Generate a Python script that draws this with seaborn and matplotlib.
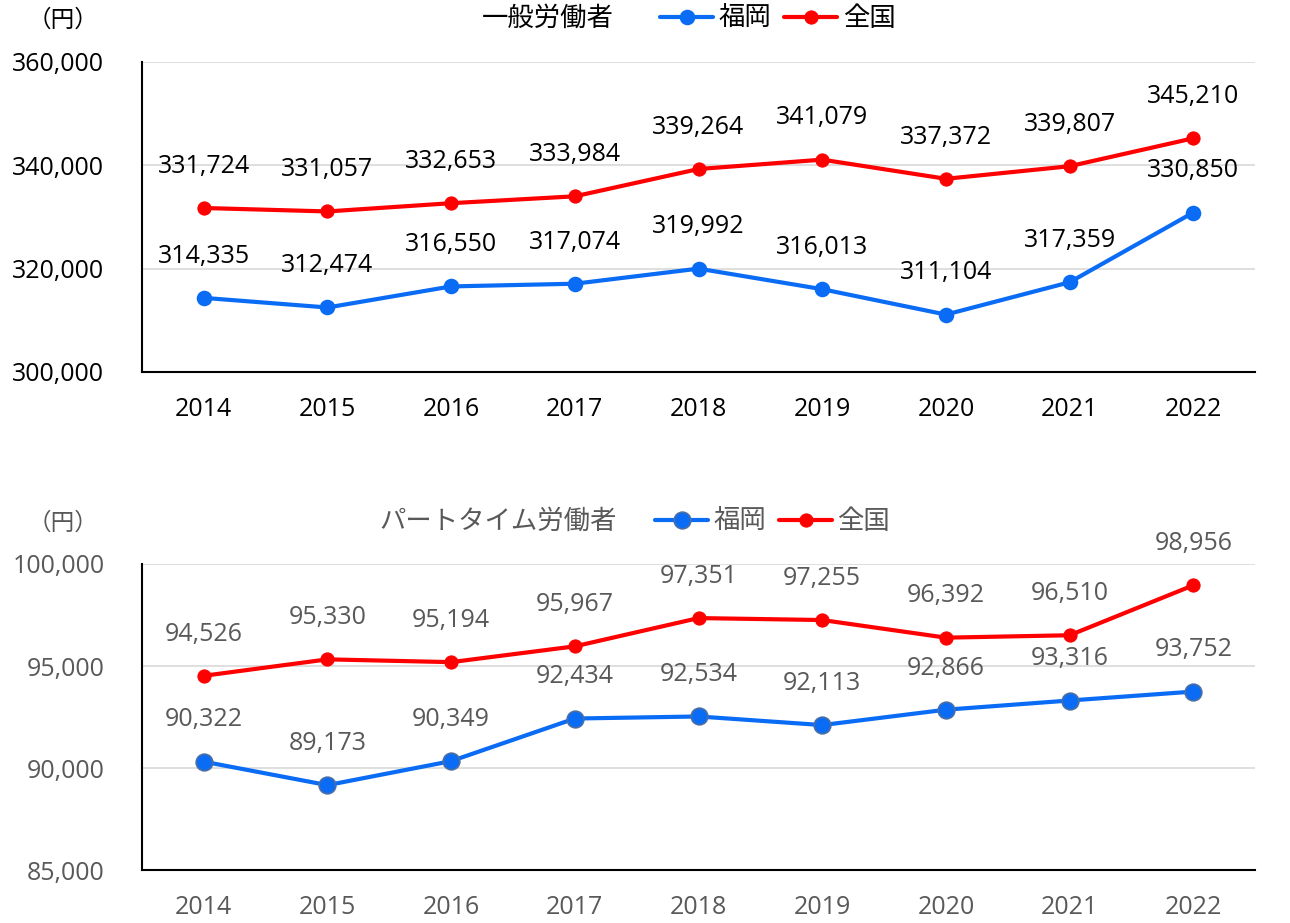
import pandas as pd
import matplotlib.pyplot as plt
import seaborn as sns
from matplotlib.ticker import FuncFormatter

years = ["2014", "2015", "2016", "2017", "2018", "2019", "2020", "2021", "2022"]

# 一般労働者
gen_fukuoka = [314335, 312474, 316550, 317074, 319992, 316013, 311104, 317359, 330850]
gen_zenkoku = [331724, 331057, 332653, 333984, 339264, 341079, 337372, 339807, 345210]

# パートタイム労働者
part_fukuoka = [90322, 89173, 90349, 92434, 92534, 92113, 92866, 93316, 93752]
part_zenkoku = [94526, 95330, 95194, 95967, 97351, 97255, 96392, 96510, 98956]

sns.set_style("white")
plt.rcParams['font.family'] = ['Open Sans', 'Noto Sans CJK JP', 'DejaVu Sans']

blue = "#0A6CF5"
red = "#FF0000"
fmt = FuncFormatter(lambda v, p: f"{int(v):,}")

fig = plt.figure(figsize=(12.9, 9.23), dpi=100)
ax1 = fig.add_axes([0.110, 0.597, 0.863, 0.336])
ax2 = fig.add_axes([0.110, 0.057, 0.863, 0.332])


def draw(ax, fuk, zen, ylim, step, txtcol, title, tx, ty, lx, fuk_edge, fuk_ms):
    df = pd.DataFrame({"year": years * 2,
                       "value": fuk + zen,
                       "area": ["福岡"] * len(years) + ["全国"] * len(years)})
    sns.lineplot(data=df[df.area == "福岡"], x="year", y="value", ax=ax,
                 color=blue, lw=3, marker="o", markersize=fuk_ms,
                 markeredgecolor=fuk_edge, markeredgewidth=1.2, label="福岡")
    sns.lineplot(data=df[df.area == "全国"], x="year", y="value", ax=ax,
                 color=red, lw=3, marker="o", markersize=9.5,
                 markeredgecolor=red, label="全国")
    for series in (fuk, zen):
        for i, v in enumerate(series):
            ax.annotate(f"{v:,}", (i, v), xytext=(0, 30), textcoords="offset points",
                        ha="center", va="center", fontsize=18, color=txtcol)
    ax.set_xlim(-0.5, 8.5)
    ax.set_ylim(*ylim)
    ax.set_yticks(range(ylim[0], ylim[1] + 1, step))
    ax.yaxis.set_major_formatter(fmt)
    ax.grid(axis="y", color="#d9d9d9", lw=1.2)
    ax.set_axisbelow(True)
    for s in ["top", "right"]:
        ax.spines[s].set_visible(False)
    for s in ["left", "bottom"]:
        ax.spines[s].set_color("black")
        ax.spines[s].set_linewidth(1.5)
    ax.tick_params(axis="both", labelsize=18, colors=txtcol, length=0)
    ax.tick_params(axis="y", pad=27)
    ax.tick_params(axis="x", pad=18)
    ax.set_xlabel("")
    ax.set_ylabel("")
    fig.text(tx, ty, title, fontsize=19, color=txtcol, ha="center", va="center")
    fig.text(0.049, ty - 0.001, "（円）", fontsize=17, color=txtcol, ha="center", va="center")
    leg = ax.legend(loc="center left", bbox_to_anchor=(lx, ty), bbox_transform=fig.transFigure,
                    ncol=2, frameon=False, fontsize=19, handlelength=2.0,
                    handletextpad=0.2, columnspacing=0.5, borderpad=0, borderaxespad=0)
    for t in leg.get_texts():
        t.set_color(txtcol)


draw(ax1, gen_fukuoka, gen_zenkoku, (300000, 360000), 20000, "black",
     "一般労働者", 0.425, 0.979, 0.512, blue, 10)
draw(ax2, part_fukuoka, part_zenkoku, (85000, 100000), 5000, "#595959",
     "パートタイム労働者", 0.386, 0.434, 0.508, "#4a6fa5", 12)

fig.savefig("out.png", dpi=100)
